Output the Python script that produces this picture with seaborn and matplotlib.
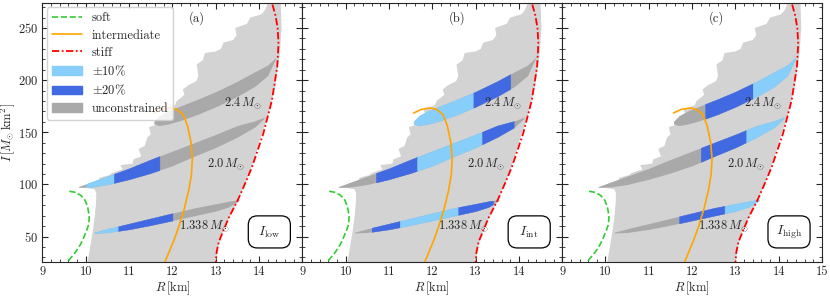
import numpy as np
import matplotlib
matplotlib.use('Agg')
import matplotlib.pyplot as plt
import seaborn as sns
from matplotlib.lines import Line2D
from matplotlib.patches import Patch, FancyBboxPatch
from matplotlib.ticker import MultipleLocator

# ---- EOS curves (R [km], I [Msun km^2]) ----
soft_R = [9.62, 9.75, 9.87, 9.97, 10.04, 10.08, 10.07, 10.02, 9.94, 9.87, 9.76, 9.60, 9.50]
soft_I = [93.5, 92.5, 90.0, 86.0, 79.0, 70.0, 62.0, 56.0, 48.0, 42.0, 35.0, 27.0, 20.0]

inter_R = [11.57, 11.75, 11.95, 12.10, 12.25, 12.35, 12.43, 12.46, 12.44, 12.38, 12.27, 12.15, 12.04, 11.93, 11.83, 11.78]
inter_I = [168.5, 172.0, 173.3, 172.0, 167.0, 156.0, 140.0, 125.0, 110.0, 95.0, 76.0, 60.0, 47.0, 36.0, 26.0, 20.0]

stiff_R = [12.99, 13.00, 13.02, 13.07, 13.15, 13.30, 13.51, 13.70, 13.84, 14.10, 14.30, 14.42, 14.45, 14.43, 14.38, 14.30, 14.25]
stiff_I = [20.0, 25.0, 35.0, 45.0, 53.0, 68.0, 85.0, 103.0, 117.0, 149.0, 181.0, 213.0, 235.0, 250.0, 262.0, 274.0, 280.0]

# ---- allowed region (light grey envelope), polygon ----
env_R = [10.04, 10.10, 10.16, 10.21, 10.24, 10.24, 10.20, 10.00, 9.83,
         10.05, 10.30, 10.32, 10.55, 10.60, 10.85, 10.80, 11.08, 11.10, 11.28, 11.22,
         11.36, 11.42, 11.50, 11.46, 11.68, 11.72, 11.85, 11.80, 12.06, 12.10, 12.28,
         12.24, 12.36, 12.55, 12.60, 12.56, 12.70, 12.75, 13.00, 13.12, 13.18, 13.40,
         13.48, 13.45, 13.72, 13.80, 14.05, 14.12, 14.18, 14.20,
         14.50, 14.52, 14.48, 14.38, 14.20, 14.00, 13.86, 13.70, 13.52, 13.30, 13.15,
         13.06, 13.00]
env_I = [25.0, 40.0, 55.0, 70.0, 85.0, 92.0, 95.5, 96.8, 97.4,
         100.5, 104.0, 106.5, 109.0, 111.0, 114.5, 118.5, 120.0, 124.0, 127.0, 134.0,
         137.0, 145.0, 148.0, 155.0, 158.0, 162.0, 166.0, 172.0, 176.0, 180.0, 186.0,
         191.0, 195.0, 199.0, 204.0, 215.0, 219.0, 226.0, 227.5, 230.0, 236.0, 238.5,
         243.0, 250.0, 254.0, 260.0, 263.0, 266.0, 271.0, 276.0,
         276.0, 250.0, 225.0, 195.0, 165.0, 140.0, 120.0, 103.0, 85.0, 67.0, 53.0,
         40.0, 25.0]

# ---- fixed-mass bands ----
b24_R = [11.57, 11.70, 11.90, 12.20, 12.60, 13.00, 13.50, 13.90, 14.20, 14.38]
b24_hi = [160.5, 166.0, 170.5, 175.5, 182.0, 189.0, 199.0, 208.0, 214.5, 221.5]
b24_lo = [158.0, 156.5, 158.0, 161.5, 167.5, 174.5, 184.5, 194.0, 204.5, 220.5]

b20_R = [9.83, 10.10, 10.50, 11.00, 11.50, 12.00, 12.50, 13.00, 13.50, 13.90, 14.12]
b20_hi = [97.8, 102.0, 108.0, 115.5, 124.0, 132.0, 140.0, 148.0, 156.5, 161.0, 164.5]
b20_lo = [97.2, 97.5, 100.0, 105.0, 111.0, 118.0, 127.0, 135.5, 145.5, 155.0, 163.5]

b13_R = [10.20, 10.50, 11.00, 11.50, 12.00, 12.50, 13.00, 13.30, 13.54]
b13_hi = [54.2, 57.5, 62.5, 67.5, 72.5, 77.5, 81.5, 84.0, 85.5]
b13_lo = [53.5, 54.0, 57.0, 61.0, 65.5, 70.0, 74.5, 78.5, 84.5]

bands = {'2.4': (b24_R, b24_lo, b24_hi),
         '2.0': (b20_R, b20_lo, b20_hi),
         '1.338': (b13_R, b13_lo, b13_hi)}

# constrained parts of the bands: (band, R from, R to, kind)
seg_low = [('2.0', 10.00, 10.65, 'p10'), ('2.0', 10.65, 11.70, 'p20'),
           ('1.338', 10.20, 10.75, 'p10'), ('1.338', 10.75, 12.00, 'p20')]
seg_int = [('2.4', 11.57, 12.95, 'p10'), ('2.4', 12.95, 13.80, 'p20'),
           ('2.0', 10.70, 11.65, 'p20'), ('2.0', 11.65, 13.15, 'p10'), ('2.0', 13.15, 13.88, 'p20'),
           ('1.338', 10.60, 11.25, 'p20'), ('1.338', 11.25, 12.60, 'p10'), ('1.338', 12.60, 13.40, 'p20')]
seg_high = [('2.4', 12.30, 13.40, 'p20'), ('2.4', 13.40, 14.38, 'p10'),
            ('2.0', 12.20, 13.25, 'p20'), ('2.0', 13.25, 14.12, 'p10'),
            ('1.338', 11.70, 12.75, 'p20'), ('1.338', 12.75, 13.54, 'p10')]

mass_labels = [(13.64, 177.5, r'$2.4\,M_{\odot}$'),
               (13.24, 119, r'$2.0\,M_{\odot}$'),
               (12.73, 60, r'$1.338\,M_{\odot}$')]

panels = [('(a)', r'$I_{\rm low}$', seg_low),
          ('(b)', r'$I_{\rm int}$', seg_int),
          ('(c)', r'$I_{\rm high}$', seg_high)]

colors = {'p10': '#87cefa', 'p20': '#4169e1', 'unc': '#a9a9a9', 'env': '#d3d3d3'}
dashdot = (4.0, 1.4, 1.0, 1.4)

sns.set_style('ticks')
plt.rcParams['font.family'] = ['cmr10', 'DejaVu Serif']
plt.rcParams['mathtext.fontset'] = 'cm'
plt.rcParams['axes.formatter.use_mathtext'] = True
plt.rcParams['axes.unicode_minus'] = False

fig, axes = plt.subplots(1, 3, figsize=(8.3, 2.96), dpi=100, sharey=True)
fig.subplots_adjust(left=0.0512, right=0.9904, bottom=0.116, top=0.99, wspace=0)

for k, (ax, (tag, box_txt, segs)) in enumerate(zip(axes, panels)):
    ax.fill(env_R, env_I, color=colors['env'], lw=0, zorder=1)

    for name, (R, lo, hi) in bands.items():
        ax.fill_between(R, lo, hi, color=colors['unc'], lw=0, zorder=2)

    for name, r0, r1, kind in segs:
        R, lo, hi = bands[name]
        R = np.asarray(R)
        inner = R[(R > r0) & (R < r1)]
        xs = np.concatenate([[r0], inner, [r1]])
        ax.fill_between(xs, np.interp(xs, R, lo), np.interp(xs, R, hi),
                        color=colors[kind], lw=0.3, ec=colors[kind], zorder=3)

    sns.lineplot(x=soft_R, y=soft_I, sort=False, estimator=None, ax=ax,
                 color='#33cc33', linestyle='--', lw=1.2, zorder=4)
    sns.lineplot(x=inter_R, y=inter_I, sort=False, estimator=None, ax=ax,
                 color='orange', linestyle='-', lw=1.2, zorder=4)
    sns.lineplot(x=stiff_R, y=stiff_I, sort=False, estimator=None, ax=ax,
                 color='red', dashes=False, lw=1.3, zorder=4)
    ax.lines[-1].set_dashes(dashdot)

    for x, y, s in mass_labels:
        ax.text(x, y, s, ha='center', va='center', fontsize=9, zorder=5)

    ax.text(0.595, 0.94, tag, transform=ax.transAxes, ha='center', va='center', fontsize=9)

    box = FancyBboxPatch((0.873 - 0.081, 0.115 - 0.062), 0.162, 0.124,
                         boxstyle='round,pad=0,rounding_size=0.035',
                         transform=ax.transAxes, fc='white', ec='black', lw=0.9, zorder=6)
    ax.add_patch(box)
    ax.text(0.873, 0.115, box_txt, transform=ax.transAxes, ha='center', va='center',
            fontsize=10, zorder=7)

    ax.set_xlim(9, 15)
    ax.set_ylim(26, 274)
    ax.set_xticks(range(9, 16))
    ax.set_xticklabels([str(t) for t in range(9, 15)] + (['15'] if k == 2 else ['']))
    ax.xaxis.set_minor_locator(MultipleLocator(0.2))
    ax.yaxis.set_major_locator(MultipleLocator(50))
    ax.yaxis.set_minor_locator(MultipleLocator(10))
    ax.tick_params(which='both', direction='in', top=True, right=True, labelsize=9, pad=3)
    ax.tick_params(which='major', length=4, width=0.8)
    ax.tick_params(which='minor', length=2.2, width=0.6)
    for sp in ax.spines.values():
        sp.set_linewidth(0.8)
    ax.set_xlabel(r'$R\,[\mathrm{km}]$', fontsize=9, labelpad=1)

axes[0].set_ylabel(r'$I\,[M_{\odot}\,\mathrm{km}^2]$', fontsize=9, labelpad=0.5)

stiff_handle = Line2D([], [], color='red', lw=1.3)
stiff_handle.set_dashes(dashdot)
handles = [Line2D([], [], color='#33cc33', ls='--', lw=1.2),
           Line2D([], [], color='orange', ls='-', lw=1.2),
           stiff_handle,
           Patch(color=colors['p10']),
           Patch(color=colors['p20']),
           Patch(color=colors['unc'])]
labels = ['soft', 'intermediate', 'stiff', r'$\pm10\%$', r'$\pm20\%$', 'unconstrained']
leg = axes[0].legend(handles, labels, loc='upper left', fontsize=9, handlelength=2.4,
                     labelspacing=0.4, borderaxespad=0.35, framealpha=0.85,
                     edgecolor='0.8', fancybox=True)
leg.set_zorder(10)

fig.savefig('out.png', dpi=100)
